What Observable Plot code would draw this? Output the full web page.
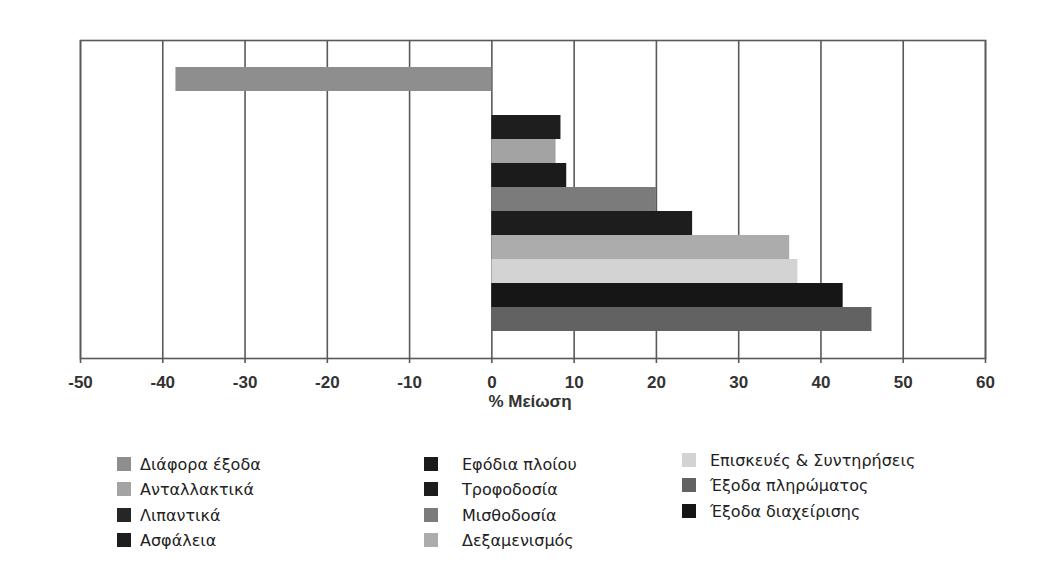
<!DOCTYPE html>
<html>
<head>
<meta charset="utf-8">
<script src="https://cdn.jsdelivr.net/npm/d3@7"></script>
<script src="https://cdn.jsdelivr.net/npm/@observablehq/plot@0.6"></script>
<style>
  body { margin: 0; background: #ffffff; }
  #wrap { position: relative; width: 1055px; height: 581px; overflow: hidden; background: #ffffff; }
  #legend { position: absolute; left: 0; top: 425px; width: 1055px; height: 156px; font-family: "DejaVu Sans", sans-serif; font-size: 16px; color: #222222; }
  .item { position: absolute; height: 20px; display: flex; align-items: center; white-space: nowrap; }
  .sw { width: 14px; height: 14px; display: inline-block; }
</style>
</head>
<body>
<div id="wrap">
  <div id="chart"></div>
  <div id="legend"></div>
</div>
<script>
// Series (legend order)
const categories = ["Διάφορα έξοδα", "Ανταλλακτικά", "Λιπαντικά", "Ασφάλεια", "Εφόδια πλοίου", "Τροφοδοσία", "Μισθοδοσία", "Δεξαμενισμός", "Επισκευές & Συντηρήσεις", "Έξοδα πληρώματος", "Έξοδα διαχείρισης"];
const values = [-38.4, 7.8, 0, 8.4, 9.1, 24.4, 20.0, 36.2, 37.2, 46.2, 42.7];
const colors = ["#8e8e8e", "#a3a3a3", "#262626", "#1e1e1e", "#1b1b1b", "#1d1d1d", "#7b7b7b", "#acacac", "#d3d3d3", "#626262", "#161616"];
// Bar order, top to bottom
const barOrder = ["Διάφορα έξοδα", "Λιπαντικά", "Ασφάλεια", "Ανταλλακτικά", "Εφόδια πλοίου", "Μισθοδοσία", "Τροφοδοσία", "Δεξαμενισμός", "Επισκευές & Συντηρήσεις", "Έξοδα διαχείρισης", "Έξοδα πληρώματος"];
const xTicks = [-50, -40, -30, -20, -10, 0, 10, 20, 30, 40, 50, 60];
const axisLabel = "% Μείωση";

const data = categories.map((name, i) => ({name, value: values[i]}));

const chart = Plot.plot({
  width: 1055,
  height: 425,
  marginLeft: 80,
  marginRight: 70,
  marginTop: 40,
  marginBottom: 67,
  style: {fontFamily: "'Liberation Sans', Arial, sans-serif", background: "#ffffff", color: "#2a2a2a"},
  x: {domain: [-50, 60]},
  y: {domain: barOrder, paddingInner: 0, paddingOuter: 1.07, axis: null},
  color: {domain: categories, range: colors},
  marks: [
    Plot.ruleX(xTicks, {stroke: "#595959", strokeWidth: 1.6}),
    Plot.barX(data, {x: "value", y: "name", fill: "name"}),
    Plot.frame({stroke: "#595959", strokeWidth: 1.6}),
    Plot.axisX({ticks: xTicks, tickFormat: d => String(d), tickSize: 5, tickPadding: 12, fontSize: 17, fontWeight: "bold", fill: "#333333", label: null, stroke: "#595959", strokeWidth: 1.6}),
    Plot.text([axisLabel], {frameAnchor: "bottom", dy: 48, dx: -3, fontSize: 17, fontWeight: "bold", fill: "#333333"})
  ]
});
document.getElementById("chart").appendChild(chart);

// Legend: three columns
const legend = document.getElementById("legend");
const cols = [
  {sw: 117, tx: 140, items: [0, 1, 2, 3]},
  {sw: 424, tx: 462, items: [4, 5, 6, 7]},
  {sw: 682, tx: 710, items: [8, 9, 10]}
];
const rowTops = [29, 54, 80, 105];
cols.forEach(c => {
  c.items.forEach((idx, r) => {
    const top = (rowTops[r] - (c.sw > 600 ? 4 : 0)) + "px";
    const sw = document.createElement("div");
    sw.className = "item";
    sw.style.left = c.sw + "px";
    sw.style.top = top;
    const box = document.createElement("span");
    box.className = "sw";
    box.style.background = colors[idx];
    sw.appendChild(box);
    legend.appendChild(sw);
    const t = document.createElement("div");
    t.className = "item";
    t.style.left = c.tx + "px";
    t.style.top = top;
    t.textContent = categories[idx];
    legend.appendChild(t);
  });
});
</script>
</body>
</html>
